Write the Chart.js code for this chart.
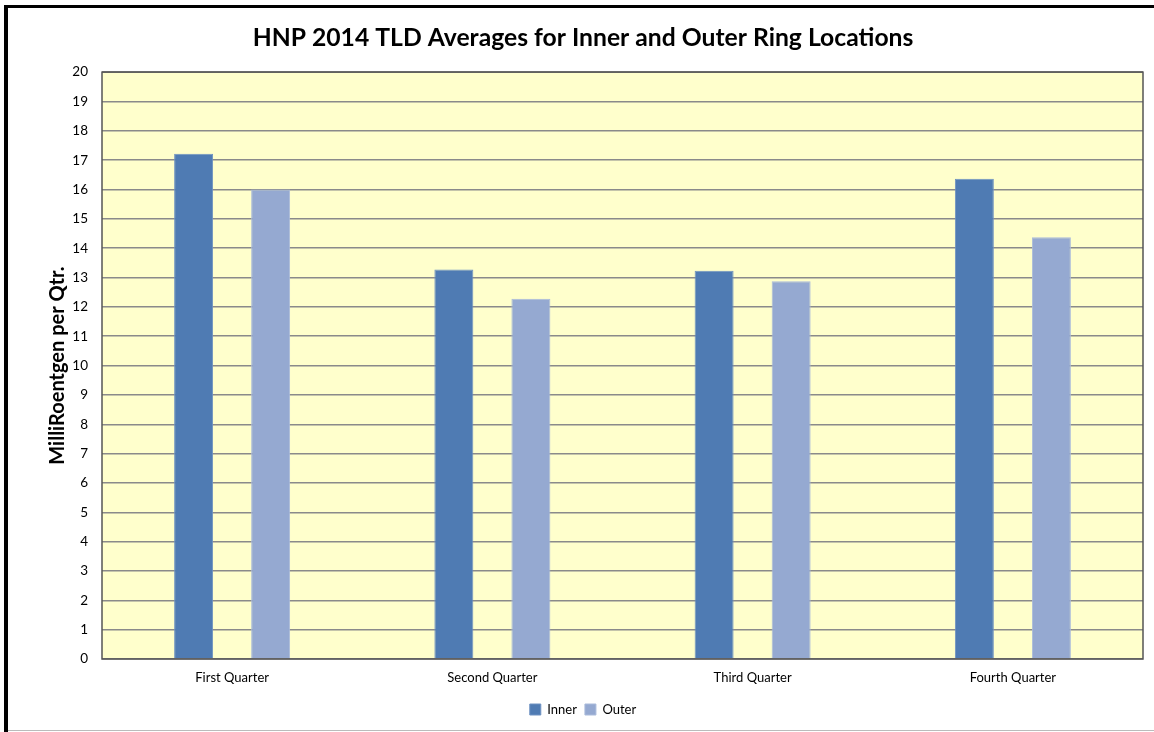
<!DOCTYPE html>
<html>
<head>
<meta charset="utf-8">
<script src="https://cdn.jsdelivr.net/npm/chart.js@4"></script>
<style>
  body { margin: 0; background: #fff; }
  #wrap { width: 1154px; height: 732px; position: relative; }
</style>
</head>
<body>
<div id="wrap"><canvas id="myChart" width="1154" height="732"></canvas></div>
<script>
var quarters = ["First Quarter", "Second Quarter", "Third Quarter", "Fourth Quarter"];
var innerValues = [17.22, 13.27, 13.23, 16.37];
var outerValues = [16.0, 12.28, 12.87, 14.37];
var yTicks = { min: 0, max: 20, step: 1 };

var fontName = "Lato, 'Open Sans', sans-serif";

// yellow plot area + outer frame
var backgroundPlugin = {
    id: "chartBackground",
    beforeDraw: function (chart) {
        var ctx = chart.ctx;
        var area = chart.chartArea;
        ctx.save();
        ctx.fillStyle = "#ffffff";
        ctx.fillRect(0, 0, chart.width, chart.height);
        ctx.fillStyle = "#FFFFCC";
        ctx.fillRect(area.left, area.top, area.right - area.left, area.bottom - area.top);
        // frame
        ctx.fillStyle = "#000000";
        ctx.fillRect(4, 5, 4, chart.height - 5);
        ctx.fillRect(4, 5, chart.width - 4, 3);
        ctx.fillStyle = "#bbbbbb";
        ctx.fillRect(8, 730, chart.width - 8, 1);
        ctx.restore();
    },
    afterDatasetsDraw: function (chart) {
        var ctx = chart.ctx;
        var area = chart.chartArea;
        ctx.save();
        ctx.strokeStyle = "#555555";
        ctx.lineWidth = 1.5;
        ctx.strokeRect(area.left, area.top, area.right - area.left, area.bottom - area.top);
        ctx.restore();
    }
};

var chart = document.getElementById("myChart");

var graph = new Chart(chart, {
    type: "bar",
    data: {
        labels: quarters,
        datasets: [{
            label: "Inner",
            data: innerValues,
            backgroundColor: "#4F7BB3",
            borderColor: "#6E92C2",
            borderWidth: 1,
            categoryPercentage: 0.592,
            barPercentage: 0.506
        }, {
            label: "Outer",
            data: outerValues,
            backgroundColor: "#95A9D1",
            borderColor: "#AABBDB",
            borderWidth: 1,
            categoryPercentage: 0.592,
            barPercentage: 0.506
        }]
    },
    options: {
        responsive: false,
        animation: false,
        layout: {
            padding: { left: 23, right: 11, top: 0, bottom: 6 }
        },
        plugins: {
            title: {
                display: true,
                text: "HNP 2014 TLD Averages for Inner and Outer Ring Locations",
                color: "#000000",
                font: { family: fontName, size: 24.7, weight: "bold" },
                padding: { top: 23, bottom: 19.5 }
            },
            legend: {
                position: "bottom",
                labels: {
                    color: "#000000",
                    font: { family: fontName, size: 13 },
                    boxWidth: 11,
                    boxHeight: 11,
                    padding: 8
                }
            },
            tooltip: { enabled: false }
        },
        scales: {
            x: {
                afterFit: function (scale) {
                    scale.height = 36;
                },
                grid: { display: false },
                border: { display: false },
                ticks: {
                    color: "#000000",
                    font: { family: fontName, size: 13 },
                    padding: 3
                }
            },
            y: {
                min: yTicks.min,
                max: yTicks.max,
                afterFit: function (scale) {
                    scale.width = 79;
                },
                grid: {
                    color: "#8a8a8a",
                    lineWidth: 1.5,
                    drawTicks: false
                },
                border: { display: false },
                ticks: {
                    stepSize: yTicks.step,
                    color: "#000000",
                    font: { family: fontName, size: 13.5 },
                    padding: 14
                },
                title: {
                    display: true,
                    text: "MilliRoentgen per Qtr.",
                    color: "#000000",
                    font: { family: fontName, size: 20, weight: "bold" },
                    padding: { top: 23, bottom: 0 }
                }
            }
        }
    },
    plugins: [backgroundPlugin]
});
</script>
</body>
</html>
